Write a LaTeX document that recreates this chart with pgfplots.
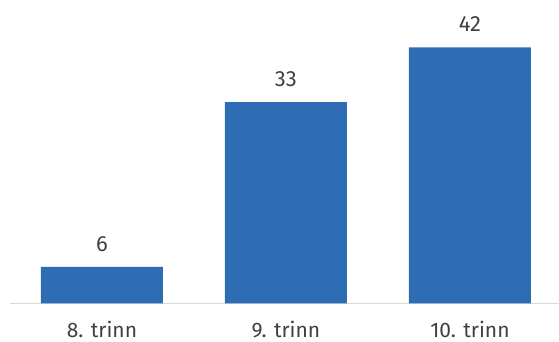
\documentclass[border=0pt]{standalone}
\usepackage{pgfplots}
\pgfplotsset{compat=1.18}
\usepackage{fontspec}
\setmainfont{Fira Sans}
\definecolor{barblue}{HTML}{2E6DB4}
\definecolor{txt}{HTML}{404040}
\definecolor{axgray}{HTML}{D9D9D9}
\begin{document}
\begin{tikzpicture}
\useasboundingbox (-10pt,-38pt) rectangle (549pt,303.5pt);
\begin{axis}[
  at={(0pt,0pt)}, anchor=south west,
  scale only axis,
  width=549pt, height=303.5pt,
  xmin=-0.5, xmax=2.484,
  ymin=0, ymax=49.75,
  axis x line=bottom, axis y line=none,
  x axis line style={axgray, line width=1.2pt, -},
  xtick=data, xticklabels={8. trinn, 9. trinn, 10. trinn},
  xtick style={draw=none},
  ticklabel style={font=\fontsize{21}{24}\selectfont, text=txt},
  xticklabel style={inner sep=0pt, text depth=0pt, yshift=-13pt},
  ytick=\empty,
  /pgf/number format/assume math mode=true,
  ybar, bar width=122pt,
  nodes near coords,
  nodes near coords style={font=\fontsize{22}{26}\selectfont, text=txt, yshift=12pt},
  clip=false,
]
\addplot[fill=barblue, draw=none] coordinates {(0,6) (1,33) (2,42)};
\end{axis}
\end{tikzpicture}
\end{document}
